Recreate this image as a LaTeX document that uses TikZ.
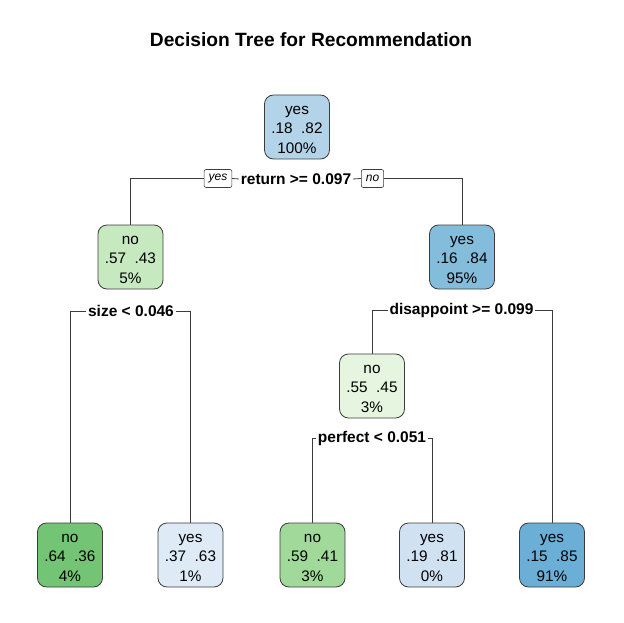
\documentclass[tikz,border=0pt]{standalone}
\usepackage{fontspec}
\setmainfont{Liberation Sans}
\definecolor{cRoot}{RGB}{179,211,232}
\definecolor{cR}{RGB}{132,188,219}
\definecolor{cRR}{RGB}{107,174,214}
\definecolor{cMR}{RGB}{208,225,242}
\definecolor{cLR}{RGB}{222,235,247}
\definecolor{cL}{RGB}{199,233,192}
\definecolor{cM}{RGB}{229,245,224}
\definecolor{cLL}{RGB}{116,196,118}
\definecolor{cML}{RGB}{161,217,155}
\definecolor{edge}{RGB}{60,60,60}
\newcommand{\fl}{\rule{0pt}{14pt}}
\begin{document}
\begin{tikzpicture}[x=1pt,y=-1pt,
  tnode/.style={draw=edge,line width=0.8pt,rounded corners=9pt,minimum width=65pt,minimum height=64pt,align=center,inner sep=0pt,font=\fontsize{15.3}{19.5}\selectfont,text=black},
  splitlbl/.style={font=\fontsize{15.5}{18}\selectfont\bfseries,inner xsep=1.5pt,inner ysep=3pt},
  ynbox/.style={draw=edge,line width=0.6pt,rounded corners=2pt,font=\fontsize{12}{14}\selectfont\itshape,inner xsep=4.5pt,inner ysep=2pt,minimum height=18pt},
  conn/.style={draw=edge,line width=0.8pt}]
\useasboundingbox (0,0) rectangle (624,623);
\node[font=\fontsize{19.2}{23}\selectfont\bfseries] (title) at (311,40) {Decision Tree for Recommendation};
% nodes
\node[tnode,fill=cRoot] (root) at (297,127) {\fl yes\\.18\ \ .82\\100\%};
\node[tnode,fill=cL] (L) at (130.5,257) {\fl no\\.57\ \ .43\\5\%};
\node[tnode,fill=cR] (R) at (462,257) {\fl yes\\.16\ \ .84\\95\%};
\node[tnode,fill=cM] (M) at (372,386) {\fl no\\.55\ \ .45\\3\%};
\node[tnode,fill=cLL] (LL) at (70,555) {\fl no\\.64\ \ .36\\4\%};
\node[tnode,fill=cLR] (LR) at (190.5,555) {\fl yes\\.37\ \ .63\\1\%};
\node[tnode,fill=cML] (ML) at (312.5,555) {\fl no\\.59\ \ .41\\3\%};
\node[tnode,fill=cMR] (MR) at (432,555) {\fl yes\\.19\ \ .81\\0\%};
\node[tnode,fill=cRR] (RR) at (552,555) {\fl yes\\.15\ \ .85\\91\%};
% split labels
\node[splitlbl] (s1) at (296,179) {return >= 0.097};
\node[ynbox] (yes1) at (218,178.5) {yes};
\node[ynbox] (no1) at (372.5,178.5) {no};
\node[splitlbl] (s2) at (131,311) {size < 0.046};
\node[splitlbl] (s3) at (461.5,310) {disappoint >= 0.099};
\node[splitlbl] (s4) at (372,438) {perfect < 0.051};
% connectors
\draw[conn] (L.north) |- (yes1.west);
\draw[conn] (yes1.east) -- (s1.west);
\draw[conn] (s1.east) -- (no1.west);
\draw[conn] (no1.east) -| (R.north);
\draw[conn] (LL.north) |- (s2.west);
\draw[conn] (s2.east) -| (LR.north);
\draw[conn] (M.north) |- (s3.west);
\draw[conn] (s3.east) -| (RR.north);
\draw[conn] (ML.north) |- (s4.west);
\draw[conn] (s4.east) -| (MR.north);
\end{tikzpicture}
\end{document}
